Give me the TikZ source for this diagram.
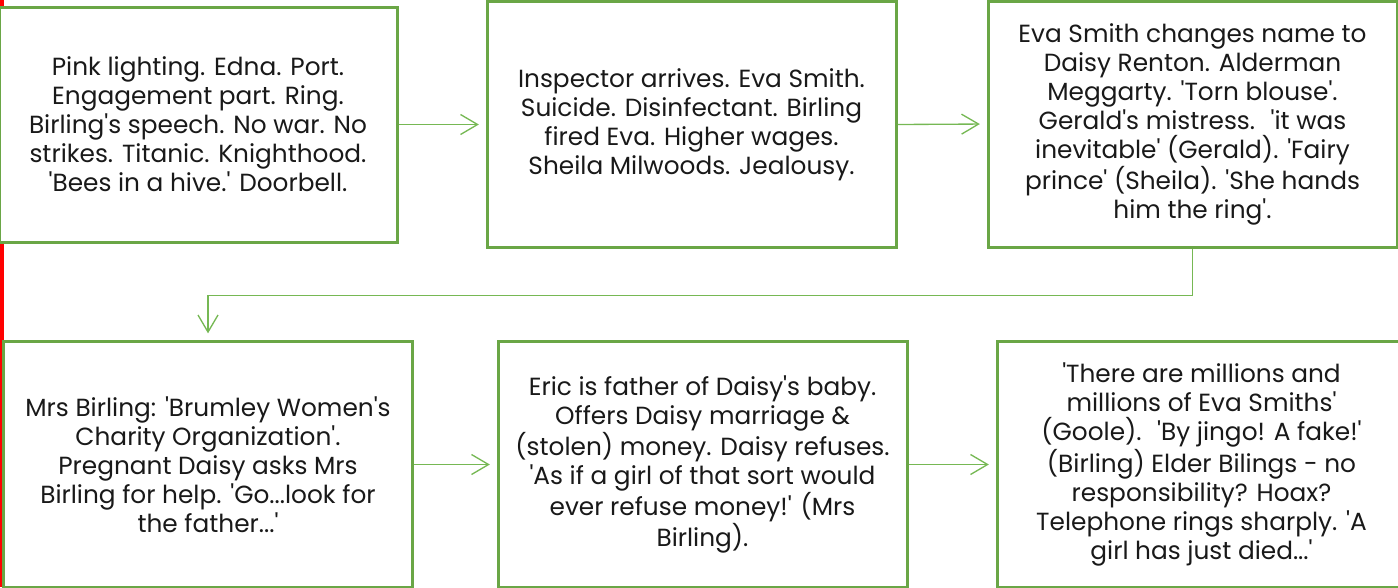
\documentclass[tikz,border=0pt]{standalone}
\usepackage{fontspec}
\setmainfont{Poppins}[Ligatures=TeXOff]
\usetikzlibrary{arrows.meta}
\definecolor{boxgreen}{RGB}{106,166,70}
\definecolor{arrowgreen}{RGB}{118,184,84}
\definecolor{sidered}{RGB}{255,0,0}
\tikzset{every picture/.style={line width=0.75pt}}
\tikzset{
  eventbox/.style={draw=boxgreen, line width=2.25pt, fill=white, align=center,
    minimum width=306.75pt, minimum height=184.5pt, inner sep=0pt,
    font=\fontsize{18.6}{21.75}\selectfont, text=black!90},
  flowarrow/.style={draw=arrowgreen, line width=1pt, shorten >=5pt,
    -{Straight Barb[length=12.75pt, width=15pt, line width=1pt]}}
}

\begin{document}
\begin{tikzpicture}[x=0.75pt,y=0.75pt,yscale=-1,xscale=1]
\useasboundingbox (0,0) rectangle (1398,587);

% red margin line
\fill[sidered] (0,0) rectangle (4,587);

% top row
\node[eventbox, minimum width=298.5pt, minimum height=176.25pt] (b1) at (198,124.5)
  {Pink lighting. Edna. Port.\\Engagement part. Ring.\\Birling's speech. No war. No\\strikes. Titanic. Knighthood.\\'Bees in a hive.' Doorbell.};
\node[eventbox] (b2) at (691.5,124.5)
  {Inspector arrives. Eva Smith.\\Suicide. Disinfectant. Birling\\fired Eva. Higher wages.\\Sheila Milwoods. Jealousy.};
\node[eventbox] (b3) at (1192.5,124)
  {Eva Smith changes name to\\Daisy Renton. Alderman\\Meggarty. 'Torn blouse'.\\Gerald's mistress.~ 'it was\\inevitable' (Gerald). 'Fairy\\prince' (Sheila). 'She hands\\him the ring'.};

% bottom row
\node[eventbox] (b4) at (208,464.5)
  {Mrs Birling: 'Brumley Women's\\Charity Organization'.\\Pregnant Daisy asks Mrs\\Birling for help. 'Go...look for\\the father...'};
\node[eventbox] (b5) at (702.5,464.5)
  {Eric is father of Daisy's baby.\\Offers Daisy marriage \&\\(stolen) money. Daisy refuses.\\'As if a girl of that sort would\\ever refuse money!' (Mrs\\Birling).};
\node[eventbox] (b6) at (1201.5,464.5)
  {'There are millions and\\millions of Eva Smiths'\\(Goole).~ 'By jingo! A fake!'\\(Birling) Elder Bilings - no\\responsibility? Hoax?\\Telephone rings sharply. 'A\\girl has just died...'};

% connectors
\draw[flowarrow] (b1.east) -- (b2.west);
\draw[flowarrow] (b2.east) -- (b3.west);
\draw[flowarrow] (b3.south) -- ++(0,47) -| (b4.north);
\draw[flowarrow] (b4.east) -- (b5.west);
\draw[flowarrow] (b5.east) -- (b6.west);

\end{tikzpicture}
\end{document}
